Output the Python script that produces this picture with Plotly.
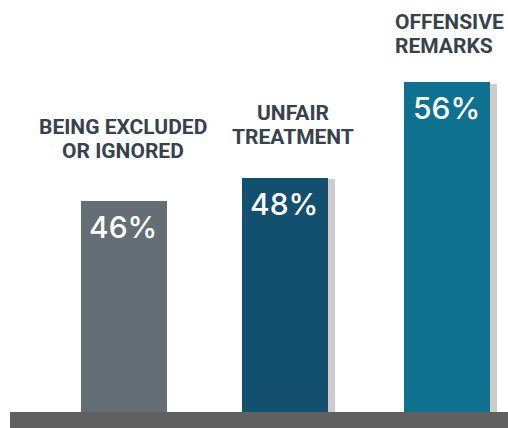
import plotly.graph_objects as go

# Data
categories = ["BEING EXCLUDED<br>OR IGNORED", "UNFAIR<br>TREATMENT", "OFFENSIVE<br>REMARKS"]
values = [46, 48, 56]
value_labels = [f"{v}%" for v in values]

bar_colors = ["#656d75", "#134f6e", "#0e7190"]
shadow_color = "#cccccc"
base_color = "#606060"
label_color = "#37424c"

W, H = 508, 428
MB = 16                      # space under the plot for the floor bar
PX_PER_CAT = 161.75          # horizontal pixels between category centres
FIRST_CENTER = 123.5         # pixel x of the first category centre
BAR_W = 86 / PX_PER_CAT
SHADOW_DX = 7 / PX_PER_CAT

x_idx = list(range(len(categories)))
x_lo = -FIRST_CENTER / PX_PER_CAT
x_hi = (W - FIRST_CENTER) / PX_PER_CAT

fig = go.Figure()

# Drop shadows behind the two coloured bars
fig.add_trace(go.Bar(
    x=x_idx[1:], y=[v - 0.1 for v in values[1:]],
    width=BAR_W, offset=-BAR_W / 2 + SHADOW_DX,
    marker=dict(color=shadow_color, line=dict(width=0)),
    hoverinfo="skip", showlegend=False,
))

# Main bars
fig.add_trace(go.Bar(
    x=x_idx, y=values,
    width=BAR_W, offset=-BAR_W / 2,
    marker=dict(color=bar_colors, line=dict(width=0)),
    showlegend=False,
))

# Value labels inside the top of each bar
for i, (v, t) in enumerate(zip(values, value_labels)):
    fig.add_annotation(
        x=i, y=v, xref="x", yref="y", text=t, showarrow=False,
        xanchor="center", yanchor="top", yshift=-6, xshift=-1,
        font=dict(family="Inter", size=30, color="white", weight=500),
    )

# Category labels above the bars (one annotation per line)
label_font = dict(family="Roboto", size=21, color=label_color, weight="bold")
label_layout = [
    # (x in px, anchor, baseline of first line in px)
    (122.5, "center", 137),
    (293, "center", 123),
    (393, "left", 32),
]
for cat, (px, anchor, base) in zip(categories, label_layout):
    for j, line in enumerate(cat.split("<br>")):
        baseline = base + 24 * j
        fig.add_annotation(
            x=px / W, y=1 - (baseline + 4) / (H - MB), xref="paper", yref="paper",
            text=line, showarrow=False, xanchor=anchor, yanchor="bottom",
            font=label_font,
        )

# Floor bar
fig.add_shape(
    type="rect", xref="paper", yref="paper",
    x0=10 / W, x1=1, y0=-MB / (H - MB), y1=0,
    fillcolor=base_color, line=dict(width=0), layer="above",
)

y_lo = 28.3
y_hi = y_lo + (H - MB) / 11.9

fig.update_layout(
    width=W, height=H,
    margin=dict(l=0, r=0, t=0, b=MB),
    paper_bgcolor="white", plot_bgcolor="white",
    xaxis=dict(range=[x_lo, x_hi], visible=False),
    yaxis=dict(range=[y_lo, y_hi], visible=False),
    bargap=0,
)

fig.write_html("out.html")
